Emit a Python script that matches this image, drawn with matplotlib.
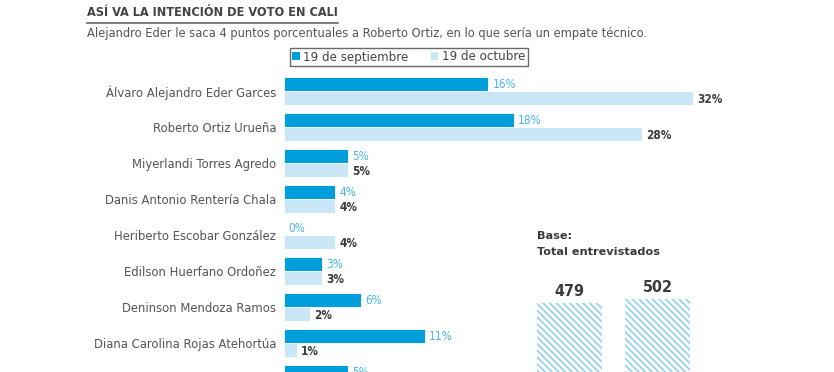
import numpy as np
import matplotlib
matplotlib.use("Agg")
import matplotlib.pyplot as plt
from matplotlib.patches import Patch

# datos de la encuesta
candidatos = [
    "Álvaro Alejandro Eder Garces",
    "Roberto Ortiz Urueña",
    "Miyerlandi Torres Agredo",
    "Danis Antonio Rentería Chala",
    "Heriberto Escobar González",
    "Edilson Huerfano Ordoñez",
    "Deninson Mendoza Ramos",
    "Diana Carolina Rojas Atehortúa",
    "",
]
septiembre = [16, 18, 5, 4, 0, 3, 6, 11, 5]
octubre = [32, 28, 5, 4, 4, 3, 2, 1, np.nan]

base_labels = ["19 de septiembre", "19 de octubre"]
base_totales = [479, 502]

AZUL = "#009fdb"
CELESTE = "#c9e7f7"
TXT_AZUL = "#45b6e6"
GRIS = "#3a3a3a"

fig = plt.figure(figsize=(8.34, 3.72), dpi=100)

# --- barras principales ---
ax = fig.add_axes([284 / 834, 1 - 397 / 372, 520 / 834, 324 / 372])
y = np.arange(len(candidatos))
h = 0.38
ax.barh(y - h / 2, septiembre, height=h, color=AZUL, edgecolor="white", linewidth=0.6)
ax.barh(y + h / 2, octubre, height=h, color=CELESTE, edgecolor="white", linewidth=0.6)
ax.set_xlim(0, 520 / 12.78)
ax.set_ylim(len(candidatos) - 0.5, -0.5)
ax.set_yticks(y)
ax.set_yticklabels(candidatos, fontsize=8.4, color="#555555")
ax.tick_params(axis="y", length=0, pad=5.5)
ax.set_xticks([])
for s in ax.spines.values():
    s.set_visible(False)

for i, (s, o) in enumerate(zip(septiembre, octubre)):
    ax.annotate(f"{s}%", (s, i - h / 2), xytext=(3, 0), textcoords="offset points",
                va="center", ha="left", fontsize=8.5, color=TXT_AZUL, fontstretch="condensed")
    if not np.isnan(o):
        ax.annotate(f"{int(o)}%", (o, i + h / 2), xytext=(3, -1), textcoords="offset points",
                    va="center", ha="left", fontsize=8.5, color=GRIS, fontstretch="condensed",
                    fontweight="bold")

# --- titulo y subtitulo ---
titulo = fig.text(87 / 834, 1 - 13 / 372, "ASÍ VA LA INTENCIÓN DE VOTO EN CALI", fontsize=9.1,
                  fontweight="bold", color="#444444", va="center", fontstretch="condensed")
fig.canvas.draw()
bb = titulo.get_window_extent()
fig.add_artist(plt.Line2D([87 / 834, bb.x1 / 834], [1 - 23 / 372, 1 - 23 / 372],
                          color="#666666", linewidth=1.2))
fig.text(87 / 834, 1 - 34 / 372,
         "Alejandro Eder le saca 4 puntos porcentuales a Roberto Ortiz, en lo que sería un empate técnico.",
         fontsize=8.3, color="#555555", va="center")

# --- leyenda ---
handles = [Patch(facecolor=AZUL, label=base_labels[0]),
           Patch(facecolor=CELESTE, label=base_labels[1])]
leg = fig.legend(handles=handles, ncol=2, loc="center left",
                 bbox_to_anchor=(290 / 834, 1 - 57 / 372), fontsize=8.6,
                 frameon=True, fancybox=False, handlelength=0.6, handleheight=0.6,
                 handletextpad=0.3, columnspacing=1.9, borderpad=0.2,
                 borderaxespad=0)
leg.get_frame().set_edgecolor("#444444")
leg.get_frame().set_linewidth(1.0)
for t in leg.get_texts():
    t.set_color("#444444")

# --- base total de entrevistados ---
fig.text(537 / 834, 1 - 236 / 372, "Base:", fontsize=8.1, fontweight="bold",
         color=GRIS, va="center")
fig.text(537 / 834, 1 - 252 / 372, "Total entrevistados", fontsize=8.1,
         fontweight="bold", color=GRIS, va="center")

plt.rcParams["hatch.color"] = "#97d3ef"
plt.rcParams["hatch.linewidth"] = 1.3
ax2 = fig.add_axes([525 / 834, 1 - 386 / 372, 177 / 834, 100 / 372])
ax2.bar([0, 1], base_totales, width=0.735, facecolor="white", hatch="\\\\\\\\\\",
        edgecolor="#97d3ef", linewidth=0)
ax2.set_xlim(-0.5, 1.5)
ax2.set_ylim(0, 502 * 100 / 87)
ax2.axis("off")
for i, v in enumerate(base_totales):
    ax2.annotate(str(v), (i, v), xytext=(0, 3), textcoords="offset points",
                 ha="center", va="bottom", fontsize=11.5, color=GRIS, fontstretch="condensed",
                 fontweight="bold")

fig.savefig("out.png", dpi=100)
